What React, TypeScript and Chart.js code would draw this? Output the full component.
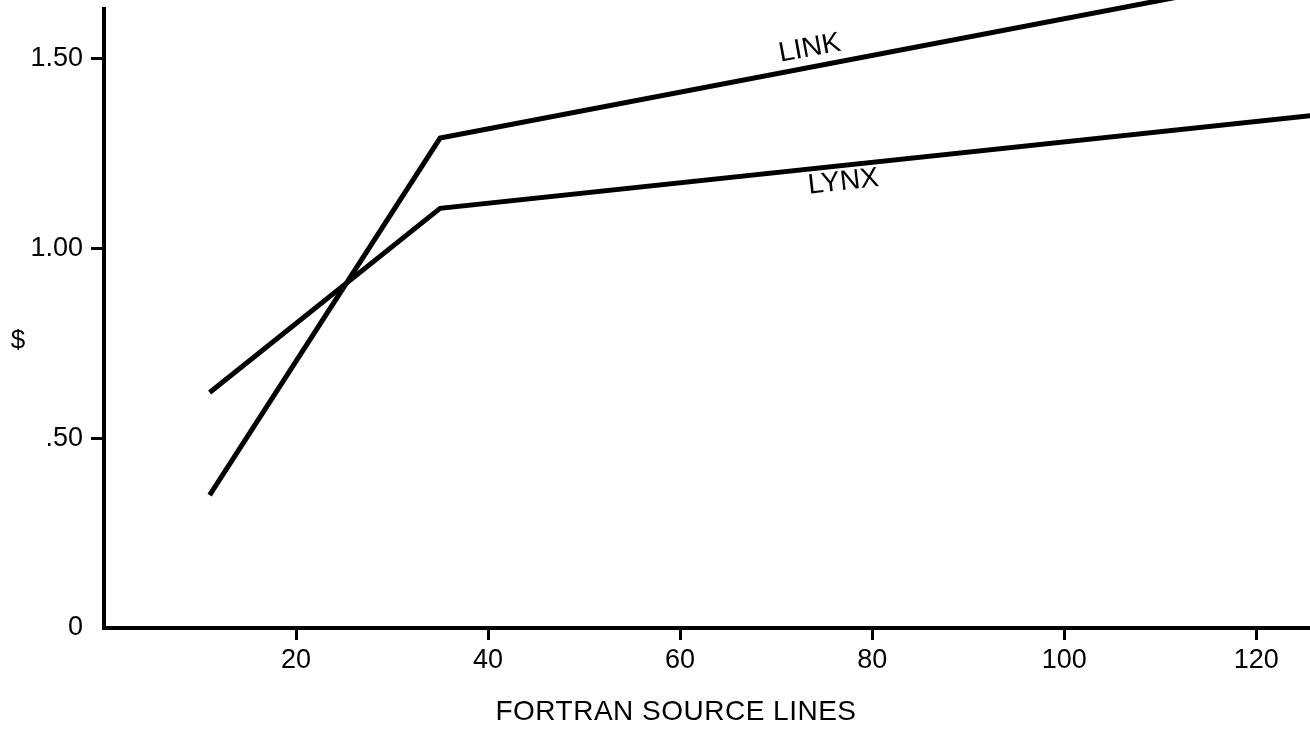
import React, { useEffect, useRef } from 'react';
import { Chart, registerables } from 'chart.js';

Chart.register(...registerables);

// ---- data ----
const xValues = [11, 35, 126];
const linkValues = [0.35, 1.29, 1.73];
const lynxValues = [0.62, 1.105, 1.35];

const xTickValues = [20, 40, 60, 80, 100, 120];
const xTickLabels = ['20', '40', '60', '80', '100', '120'];
const yTickValues = [0, 0.5, 1.0, 1.5];
const yTickLabels = ['0', '.50', '1.00', '1.50'];

const seriesNames = ['LINK', 'LYNX'];
const labelAnchorX = [73.5, 77];
const labelAnchorY = [1.526, 1.174];
const labelAngles = [-10.5, -6.5];

const xTitle = 'FORTRAN SOURCE LINES';
const yTitle = '$';

const FONT = '"Liberation Sans", Arial, Helvetica, sans-serif';

const annotatePlugin = {
  id: 'annotate',
  afterDraw(chart: any) {
    const ctx = chart.ctx as CanvasRenderingContext2D;
    const xs = chart.scales.x;
    const ys = chart.scales.y;
    ctx.save();
    ctx.fillStyle = '#000';
    ctx.font = `28px ${FONT}`;
    seriesNames.forEach((name, i) => {
      const px = xs.getPixelForValue(labelAnchorX[i]);
      const py = ys.getPixelForValue(labelAnchorY[i]);
      ctx.save();
      ctx.translate(px, py);
      ctx.rotate((labelAngles[i] * Math.PI) / 180);
      ctx.textAlign = 'center';
      ctx.textBaseline = 'middle';
      ctx.fillText(name, 0, 0);
      ctx.restore();
    });
    // x axis title
    ctx.save();
    (ctx as any).letterSpacing = '0.5px';
    ctx.font = `28px ${FONT}`;
    ctx.textAlign = 'center';
    ctx.textBaseline = 'alphabetic';
    ctx.fillText(xTitle, 676, 720);
    ctx.restore();
    // y axis title
    ctx.font = `26px ${FONT}`;
    ctx.textAlign = 'center';
    ctx.textBaseline = 'middle';
    ctx.fillText(yTitle, 18, 341);
    ctx.restore();
  },
};

export default function App() {
  const ref = useRef<HTMLCanvasElement | null>(null);

  useEffect(() => {
    if (!ref.current) return;
    const lineData = (vals: number[]) => xValues.map((x, i) => ({ x, y: vals[i] }));
    const chart = new Chart(ref.current, {
      type: 'line',
      data: {
        datasets: [
          {
            label: seriesNames[0],
            data: lineData(linkValues),
            borderColor: '#000',
            borderWidth: 5,
            pointRadius: 0,
            tension: 0,
            clip: false as any,
          },
          {
            label: seriesNames[1],
            data: lineData(lynxValues),
            borderColor: '#000',
            borderWidth: 5,
            pointRadius: 0,
            tension: 0,
            clip: false as any,
          },
        ],
      },
      options: {
        responsive: false,
        animation: false,
        devicePixelRatio: 1,
        layout: { padding: { top: 9, left: 0, right: 0, bottom: 0 } },
        plugins: {
          legend: { display: false },
          tooltip: { enabled: false },
        },
        scales: {
          x: {
            type: 'linear',
            min: 0,
            max: 125.6,
            afterBuildTicks: (scale: any) => {
              scale.ticks = xTickValues.map((v) => ({ value: v }));
            },
            afterFit: (scale: any) => {
              scale.height = 102;
              scale.paddingLeft = 0;
              scale.paddingRight = 0;
            },
            ticks: {
              color: '#000',
              font: { size: 27, family: FONT },
              padding: 4,
              maxRotation: 0,
              autoSkip: false,
              callback: (v: any) => {
                const i = xTickValues.indexOf(Number(v));
                return i >= 0 ? xTickLabels[i] : '';
              },
            },
            grid: {
              drawOnChartArea: false,
              drawTicks: true,
              tickLength: 12,
              tickWidth: 3,
              tickColor: '#000',
            },
            border: { display: true, color: '#000', width: 4 },
          },
          y: {
            type: 'linear',
            min: 0,
            max: 1.63,
            afterBuildTicks: (scale: any) => {
              scale.ticks = yTickValues.map((v) => ({ value: v }));
            },
            afterFit: (scale: any) => {
              scale.width = 104;
              scale.paddingTop = 0;
              scale.paddingBottom = 0;
            },
            ticks: {
              color: '#000',
              font: { size: 27, family: FONT },
              padding: 8,
              autoSkip: false,
              callback: (v: any) => {
                const i = yTickValues.indexOf(Number(v));
                return i >= 0 ? yTickLabels[i] : '';
              },
            },
            grid: {
              drawOnChartArea: false,
              drawTicks: true,
              tickLength: 13,
              tickWidth: 3,
              tickColor: (c: any) => (c.tick && c.tick.value === 0 ? 'rgba(0,0,0,0)' : '#000'),
            },
            border: { display: true, color: '#000', width: 4 },
          },
        },
      },
      plugins: [annotatePlugin],
    });
    return () => chart.destroy();
  }, []);

  return (
    <div style={{ position: 'fixed', left: 0, top: 0, width: 1310, height: 730, background: '#fff' }}>
      <canvas ref={ref} width={1310} height={730} style={{ display: 'block' }} />
    </div>
  );
}
